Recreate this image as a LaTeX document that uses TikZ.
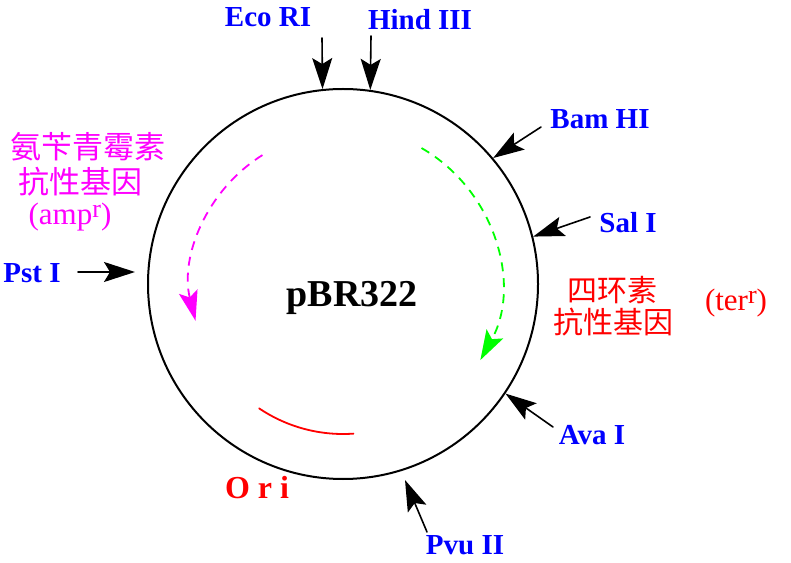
\documentclass[tikz,border=0pt]{standalone}
\usepackage{fontspec}
\setmainfont{Liberation Serif}
\newfontfamily\cjk{Noto Sans CJK SC}
\usetikzlibrary{arrows.meta}
\definecolor{ampcol}{RGB}{255,0,255}
\definecolor{tetcol}{RGB}{0,255,0}
\definecolor{sitecol}{RGB}{0,0,255}
\begin{document}
\begin{tikzpicture}[x=1pt,y=1pt,line cap=round,line join=round,
  site/.style={text=sitecol,font=\fontsize{29}{29}\selectfont\bfseries,inner sep=0pt},
  cut/.style={line width=1.6pt,-{Stealth[length=31pt,width=20pt,inset=6pt]}},
  gene/.style={inner sep=0pt,font=\cjk\fontsize{31}{31}\selectfont},
  allele/.style={inner sep=0pt,font=\fontsize{31}{31}\selectfont},
  orf/.style={line width=1.8pt,dash pattern=on 9pt off 7pt,line cap=butt}]
\path[use as bounding box] (0,0) rectangle (791,562);
% Plasmid ring; centre and radius from the reference.
\node[draw,circle,line width=2pt,minimum size=390pt,inner sep=0pt] (plasmid) at (343,278) {};
\node[font=\fontsize{38}{38}\selectfont\bfseries,inner sep=0pt] (name) at (352,264) {pBR322};
% Restriction sites, clockwise from the top.
\node[site] (eco) at (268,545) {Eco RI};
\coordinate (eco-tail) at (322,524);
\draw[cut] (eco-tail) -- (plasmid.96);
\node[site] (hind) at (420,542) {Hind III};
\coordinate (hind-tail) at (371,526);
\draw[cut] (hind-tail) -- (plasmid.82);
\node[site] (bam) at (600,443) {Bam HI};
\coordinate (bam-tail) at (541,435);
\draw[cut] (bam-tail) -- (plasmid.40);
\node[site] (sal) at (628,339) {Sal I};
\coordinate (sal-tail) at (590,345);
\draw[cut] (sal-tail) -- (plasmid.14);
\node[site] (ava) at (592,127) {Ava I};
\coordinate (ava-tail) at (553,135);
\draw[cut] (ava-tail) -- (plasmid.-34);
\node[site] (pvu) at (465,17) {Pvu II};
\coordinate (pvu-tail) at (427,30);
\coordinate (pvu-tip) at (405,82);
\draw[cut] (pvu-tail) -- (pvu-tip);
\node[site] (pst) at (32,289) {Pst I};
\coordinate (pst-tail) at (78,290);
\coordinate (pst-tip) at (135,290);
\draw[cut] (pst-tail) -- (pst-tip);
% Ampicillin resistance gene, counter-clockwise.
\draw[orf,ampcol,-{Stealth[length=30pt,width=19pt,inset=6pt]}]
  (plasmid.center) ++(122:152) arc[start angle=122,end angle=194,radius=152];
\node[gene,text=ampcol] (amp1) at (88,415) {氨苄青霉素};
\node[gene,text=ampcol] (amp2) at (80,380) {抗性基因};
\node[allele,text=ampcol] (amp3) at (70,345) {(amp\raisebox{.5ex}{\fontsize{26}{26}\selectfont r})};
% Tetracycline resistance gene, clockwise.
\draw[orf,tetcol,-{Stealth[length=30pt,width=19pt,inset=6pt]}]
  (plasmid.center) ++(60:157) arc[start angle=60,end angle=-29,radius=157];
\node[gene,text=red,font=\cjk\fontsize{30}{30}\selectfont] (tet1) at (612,272) {四环素};
\node[gene,text=red,font=\cjk\fontsize{30}{30}\selectfont] (tet2) at (613,240) {抗性基因};
\node[allele,text=red] (tet3) at (736,259) {(ter\raisebox{.5ex}{\fontsize{26}{26}\selectfont r})};
% Origin of replication.
\draw[red,line width=1.8pt] (plasmid.center) ++(-124:150) arc[start angle=-124,end angle=-86,radius=150];
\node[text=red,font=\fontsize{32}{32}\selectfont\bfseries,inner sep=0pt] (ori) at (257,74) {O r i};
\end{tikzpicture}
\end{document}
